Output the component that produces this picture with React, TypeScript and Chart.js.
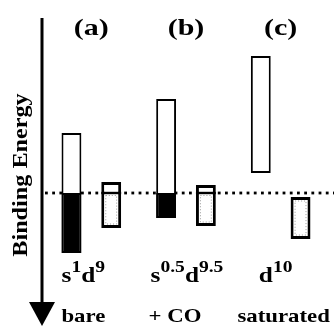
import React, { useEffect, useRef } from 'react';
import { Chart, registerables } from 'chart.js';

Chart.register(...registerables);

// ---- data ----
const categories = ['(a)', '(b)', '(c)'];
const configurations: string[][][] = [
  [['s', '1'], ['d', '9']],
  [['s', '0.5'], ['d', '9.5']],
  [['d', '10']],
];
const conditions = ['bare', '+ CO', 'saturated'];
// binding energy relative to the Fermi level (arb. units, positive = deeper)
const metalBand: number[][] = [[-6.0, 6.0], [-9.4, 2.5], [-13.7, -2.0]];
const occupiedBand: (number[] | null)[] = [[0, 6.0], [0, 2.5], null];
const adsorbateBand: number[][] = [[-1.1, 3.5], [-0.8, 3.3], [0.4, 4.6]];
const fermiLevel = 0;
const axisTitle = 'Binding Energy';

// ---- layout / style constants ----
const FONT = '"Liberation Serif", "Times New Roman", serif';
const FORMULA_NUDGE = [-8, 1, -5];
const CONDITION_NUDGE = [-8, -11, 3];

function drawScaled(ctx: CanvasRenderingContext2D, text: string, x: number, y: number, font: string, sx: number) {
  ctx.save();
  ctx.translate(x, y);
  ctx.scale(sx, 1);
  ctx.font = font;
  ctx.textAlign = 'center';
  ctx.textBaseline = 'alphabetic';
  ctx.fillText(text, 0, 0);
  ctx.restore();
}

const decor = {
  id: 'decor',
  beforeDatasetsDraw(chart: any) {
    const ctx: CanvasRenderingContext2D = chart.ctx;
    const yF = chart.scales.y.getPixelForValue(fermiLevel);
    ctx.save();
    ctx.fillStyle = '#000';
    for (let x = chart.chartArea.left + 1; x < chart.width; x += 7.2) {
      ctx.fillRect(x, yF - 1.4, 2.8, 2.8);
    }
    ctx.restore();
  },
  afterDatasetsDraw(chart: any) {
    const ctx: CanvasRenderingContext2D = chart.ctx;
    const yScale = chart.scales.y;
    const xScale = chart.scales.x;
    const yF = yScale.getPixelForValue(fermiLevel);
    const area = chart.chartArea;

    // adsorbate bars: occupied part shown by an inner dotted outline
    const meta = chart.getDatasetMeta(2);
    meta.data.forEach((bar: any) => {
      const { x, y, base, width } = bar.getProps(['x', 'y', 'base', 'width'], true);
      const top = Math.min(y, base);
      const bottom = Math.max(y, base);
      const left = x - width / 2;
      const right = x + width / 2;
      const inset = 4;
      ctx.save();
      let t = top + inset;
      if (yF > top && yF < bottom) {
        ctx.fillStyle = '#000';
        ctx.fillRect(left, yF - 1.2, width, 2.4);
        t = yF + 2.5;
      }
      ctx.strokeStyle = '#9a9a9a';
      ctx.lineWidth = 1;
      ctx.setLineDash([1, 2]);
      ctx.strokeRect(left + inset + 0.5, t, right - left - 2 * inset - 1, bottom - inset - t);
      ctx.restore();
    });

    // axis arrow
    const ax = area.left - 2;
    ctx.save();
    ctx.strokeStyle = '#000';
    ctx.fillStyle = '#000';
    ctx.lineWidth = 3;
    ctx.beginPath();
    ctx.moveTo(ax, 18);
    ctx.lineTo(ax, 305);
    ctx.stroke();
    ctx.beginPath();
    ctx.moveTo(ax - 13, 302);
    ctx.lineTo(ax + 13, 302);
    ctx.lineTo(ax, 326);
    ctx.closePath();
    ctx.fill();

    // axis title
    ctx.save();
    ctx.translate(27, 175);
    ctx.rotate(-Math.PI / 2);
    drawScaled(ctx, axisTitle, 0, 0, `bold 22px ${FONT}`, 1.1);
    ctx.restore();

    categories.forEach((cat, i) => {
      const cx = xScale.getPixelForValue(i);
      drawScaled(ctx, cat, cx, 35, `bold 24px ${FONT}`, 1.25);

      // electron configuration with superscripts
      const sx = 1.15;
      const mainFont = `bold 22px ${FONT}`;
      const supFont = `bold 17px ${FONT}`;
      const parts: { t: string; sup: boolean }[] = [];
      configurations[i].forEach(([el, n]) => {
        parts.push({ t: el, sup: false });
        parts.push({ t: n, sup: true });
      });
      let total = 0;
      const widths = parts.map((p) => {
        ctx.font = p.sup ? supFont : mainFont;
        const w = ctx.measureText(p.t).width * sx;
        total += w;
        return w;
      });
      let px = cx + FORMULA_NUDGE[i] - total / 2;
      parts.forEach((p, k) => {
        drawScaled(ctx, p.t, px + widths[k] / 2, p.sup ? 272 : 282, p.sup ? supFont : mainFont, sx);
        px += widths[k];
      });

      drawScaled(ctx, conditions[i], cx + CONDITION_NUDGE[i], 322, `bold 19px ${FONT}`, 1.2);
    });
    ctx.restore();
  },
};

export default function App() {
  const ref = useRef<HTMLCanvasElement>(null);
  useEffect(() => {
    if (!ref.current) return;
    const chart = new Chart(ref.current, {
      type: 'bar',
      data: {
        labels: categories,
        datasets: [
          {
            label: 'occupied',
            data: occupiedBand as any,
            backgroundColor: '#000',
            borderColor: '#000',
            borderWidth: 2,
            borderSkipped: false,
            stack: 'metal',
            order: 0,
          },
          {
            label: 'metal',
            data: metalBand as any,
            backgroundColor: '#fff',
            borderColor: '#000',
            borderWidth: 2,
            borderSkipped: false,
            stack: 'metal',
            order: 1,
          },
          {
            label: 'adsorbate',
            data: adsorbateBand as any,
            backgroundColor: '#fff',
            borderColor: '#000',
            borderWidth: 3,
            borderSkipped: false,
            stack: 'adsorbate',
            order: 2,
          },
        ],
      },
      options: {
        responsive: false,
        animation: false,
        events: [],
        layout: { padding: { left: 44, right: 6, top: 43, bottom: 63 } },
        datasets: { bar: { categoryPercentage: 0.84, barPercentage: 0.5 } },
        plugins: { legend: { display: false }, tooltip: { enabled: false } },
        scales: {
          x: { display: false, stacked: true, offset: true },
          y: { display: false, stacked: false, reverse: true, min: -15, max: 7 },
        },
      },
      plugins: [decor],
    });
    return () => chart.destroy();
  }, []);
  return (
    <div style={{ position: 'fixed', left: 0, top: 0, width: 334, height: 326, background: '#fff' }}>
      <canvas ref={ref} width={334} height={326} style={{ display: 'block' }} />
    </div>
  );
}
